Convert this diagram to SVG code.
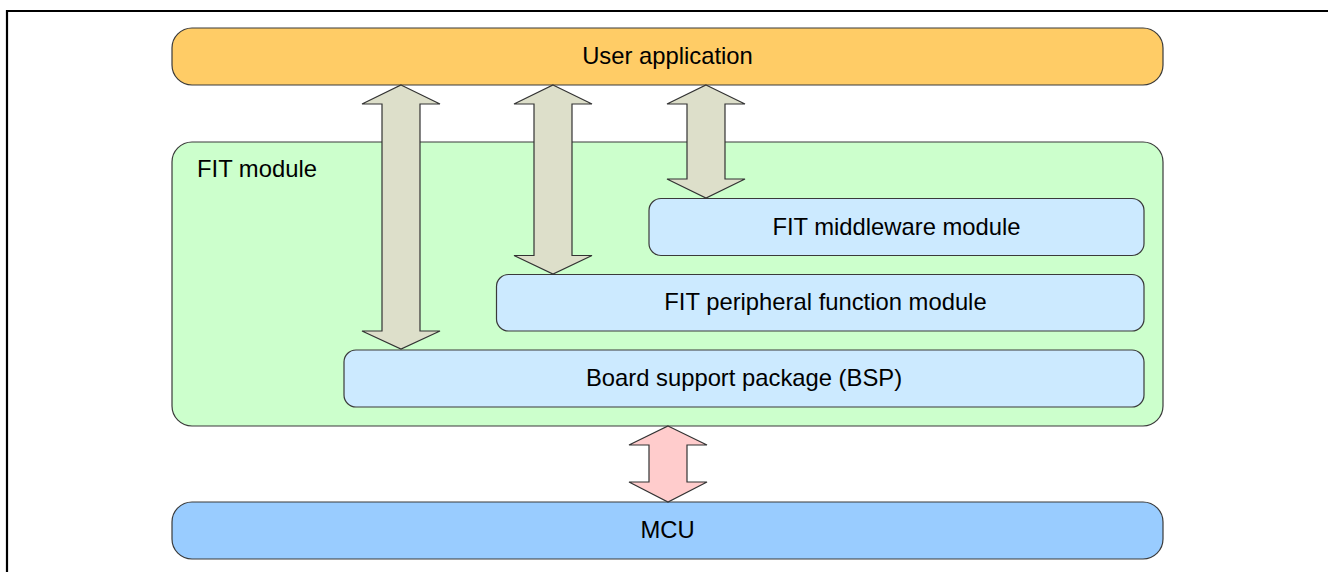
<svg xmlns="http://www.w3.org/2000/svg" width="1328" height="572" viewBox="0 0 1328 572">
<style>
.box{stroke:#3a3a3a;stroke-width:1.2}
.lbl{font-family:"Liberation Sans",Arial,sans-serif;font-size:23.8px;fill:#000}
.arr{fill:#dddfca;stroke:#333;stroke-width:1.2;stroke-linejoin:miter}
.arr2{fill:#ffcccc;stroke:#333;stroke-width:1.2}
</style>
<rect width="1328" height="572" fill="#fff"/>
<path d="M7,572 V11 H1328" fill="none" stroke="#000" stroke-width="2.2"/>
<g id="user-app">
<rect class="box" x="172" y="28" width="991" height="57" rx="20" fill="#ffcc66"/>
<text class="lbl" x="667.5" y="64" text-anchor="middle">User application</text>
</g>
<g id="fit-module">
<rect class="box" x="172" y="142" width="991" height="284" rx="20" fill="#ccffcc"/>
<text class="lbl" x="197" y="177">FIT module</text>
</g>
<g id="middleware">
<rect class="box" x="649" y="198.5" width="495" height="57" rx="12" fill="#cceaff"/>
<text class="lbl" x="896.5" y="235" text-anchor="middle">FIT middleware module</text>
</g>
<g id="peripheral">
<rect class="box" x="496.5" y="274.5" width="647.5" height="56.5" rx="12" fill="#cceaff"/>
<text class="lbl" x="825.5" y="310" text-anchor="middle">FIT peripheral function module</text>
</g>
<g id="bsp">
<rect class="box" x="344" y="350" width="800" height="57" rx="12" fill="#cceaff"/>
<text class="lbl" x="744" y="386" text-anchor="middle">Board support package (BSP)</text>
</g>
<g id="mcu">
<rect class="box" x="172" y="502" width="991" height="57" rx="20" fill="#99ccff"/>
<text class="lbl" x="667.5" y="538" text-anchor="middle">MCU</text>
</g>
<g id="connectors">
<polygon class="arr" points="401,85 440,104 420,104 420,331 440,331 401,349 362,331 382,331 382,104 362,104"/>
<polygon class="arr" points="553,85 592,104 572,104 572,255.5 592,255.5 553,274 514,255.5 534,255.5 534,104 514,104"/>
<polygon class="arr" points="706,85 745,104 725,104 725,179 745,179 706,198 667,179 687,179 687,104 667,104"/>
<polygon class="arr2" points="668,426 707,445 687,445 687,482 707,482 668,502 629,482 649,482 649,445 629,445"/>
</g>
</svg>
